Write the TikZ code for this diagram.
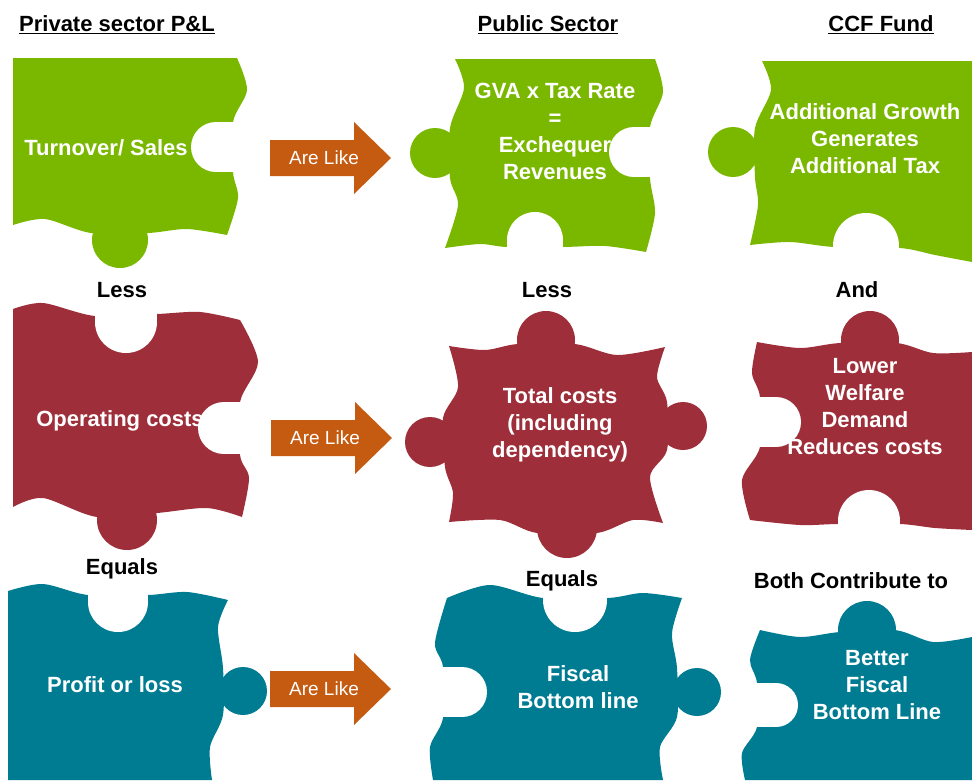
\documentclass[tikz,border=0pt]{standalone}
\usepackage{fontspec}
\setmainfont{Liberation Sans}

\definecolor{pzgreen}{RGB}{122,184,0}
\definecolor{pzred}{RGB}{158,47,58}
\definecolor{pzteal}{RGB}{0,124,146}
\definecolor{likeorange}{RGB}{197,90,17}

\tikzset{
  piecetext/.style={text=white,font=\fontsize{22}{27}\selectfont\bfseries,align=center},
  linktext/.style={font=\fontsize{22}{27}\selectfont\bfseries},
  liketext/.style={text=white,font=\fontsize{19}{22}\selectfont},
  holecut/.style={fill=white}
}

\begin{document}
\begin{tikzpicture}[x=1pt,y=-1pt]
  \useasboundingbox (0,0) rectangle (972,780);

  % Column headers
  \node[linktext] (hdrpriv) at (117,25) {\underline{Private sector P\&L}};
  \node[linktext] (hdrpub) at (548,25) {\underline{Public Sector}};
  \node[linktext] (hdrccf) at (881,25) {\underline{CCF Fund}};

  % Row 1: green pieces
  \fill[pzgreen] (13,58) -- (237,58)
    -- plot[smooth] coordinates {(237,58) (247,90) (233,122) (233,172) (238,198) (227,235)}
    -- plot[smooth] coordinates {(227,235) (187,229) (148,233) (91,233) (45,219) (13,225)}
    -- cycle;
  \fill[pzgreen] (120,240) circle[radius=28];

  \fill[pzgreen] (455,59) -- (655,59)
    -- plot[smooth] coordinates {(655,59) (663,92) (650,127) (650,178) (655,213) (646,252)}
    -- plot[smooth] coordinates {(646,252) (605,246) (563,247) (507,247) (480,244) (445,248)}
    -- plot[smooth] coordinates {(445,248) (458,205) (450,178) (450,128) (464,88) (455,59)}
    -- cycle;
  \fill[pzgreen] (435,153) circle[radius=25];

  \fill[pzgreen] (762,61) -- (972,61) -- (972,262)
    -- plot[smooth] coordinates {(972,262) (935,255) (900,248) (834,247) (790,242) (750,245)}
    -- plot[smooth] coordinates {(750,245) (758,205) (755,177) (755,128) (771,90) (762,61)}
    -- cycle;
  \fill[pzgreen] (733,152) circle[radius=25];

  % Row 2: red pieces
  \fill[pzred]
    plot[smooth] coordinates {(13,309) (43,303) (95,316) (157,314) (200,312) (240,320)}
    -- plot[smooth] coordinates {(240,320) (258,362) (240,402) (240,455) (249,478) (242,517)}
    -- plot[smooth] coordinates {(242,517) (207,508) (157,513) (97,517) (43,498) (13,507)}
    -- cycle;
  \fill[pzred] (127,520) circle[radius=30];

  \fill[pzred]
    plot[smooth] coordinates {(449,346) (485,350) (518,344) (575,344) (617,355) (665,347)}
    -- plot[smooth] coordinates {(665,347) (657,377) (667,402) (667,450) (650,477) (663,523)}
    -- plot[smooth] coordinates {(663,523) (633,520) (597,533) (537,533) (500,520) (449,522)}
    -- plot[smooth] coordinates {(449,522) (453,493) (445,467) (443,418) (458,387) (449,346)}
    -- cycle;
  \fill[pzred] (546,340) circle[radius=29];
  \fill[pzred] (683,426) circle[radius=24];
  \fill[pzred] (567,528) circle[radius=30];
  \fill[pzred] (430,442) circle[radius=25];

  \fill[pzred]
    plot[smooth] coordinates {(757,342) (800,348) (840,343) (897,343) (933,353) (972,352)}
    -- (972,530)
    -- plot[smooth] coordinates {(972,530) (935,528) (900,524) (838,524) (800,525) (750,520)}
    -- plot[smooth] coordinates {(750,520) (742,480) (760,447) (760,397) (752,373) (757,342)}
    -- cycle;
  \fill[pzred] (870,340) circle[radius=29];

  % Row 3: teal pieces
  \fill[pzteal]
    plot[smooth] coordinates {(8,591) (43,584) (88,595) (148,595) (187,592) (228,600)}
    -- plot[smooth] coordinates {(228,600) (218,627) (223,668) (223,715) (210,747) (212,780)}
    -- (8,780) -- cycle;
  \fill[pzteal] (243,691) circle[radius=24];

  \fill[pzteal]
    plot[smooth] coordinates {(447,598) (490,585) (543,598) (608,598) (643,593) (682,598)}
    -- plot[smooth] coordinates {(682,598) (672,633) (677,668) (677,717) (660,747) (663,780)}
    -- (433,780)
    -- plot[smooth] coordinates {(433,780) (430,747) (443,718) (443,667) (435,643) (447,598)}
    -- cycle;
  \fill[pzteal] (697,692) circle[radius=24];

  \fill[pzteal]
    plot[smooth] coordinates {(760,630) (800,637) (840,632) (895,630) (933,642) (972,637)}
    -- (972,780) -- (745,780)
    -- plot[smooth] coordinates {(745,780) (742,753) (757,727) (757,683) (750,660) (760,630)}
    -- cycle;
  \fill[pzteal] (867,630) circle[radius=29];

  % Blanks cut into the pieces
  \fill[holecut] (216,147) circle[radius=25];
  \fill[holecut] (216,122) rectangle (250,172);
  \fill[holecut] (634,152) circle[radius=25];
  \fill[holecut] (634,127) rectangle (670,177);
  \fill[holecut] (535,240) circle[radius=28];
  \fill[holecut] (507,240) rectangle (563,262);
  \fill[holecut] (866,246) circle[radius=33];
  \fill[holecut] (833,246) rectangle (899,266);
  \fill[holecut] (126,322) circle[radius=31];
  \fill[holecut] (95,300) rectangle (157,322);
  \fill[holecut] (224,428) circle[radius=26];
  \fill[holecut] (224,402) rectangle (264,454);
  \fill[holecut] (776,422) circle[radius=25];
  \fill[holecut] (740,397) rectangle (776,447);
  \fill[holecut] (869,521) circle[radius=31];
  \fill[holecut] (838,521) rectangle (900,542);
  \fill[holecut] (118,602) circle[radius=30];
  \fill[holecut] (88,580) rectangle (148,602);
  \fill[holecut] (575,600) circle[radius=32];
  \fill[holecut] (543,586) rectangle (607,600);
  \fill[holecut] (462,692) circle[radius=25];
  \fill[holecut] (428,667) rectangle (462,717);
  \fill[holecut] (776,705) circle[radius=22];
  \fill[holecut] (742,683) rectangle (776,727);

  % "Are Like" arrows
  \foreach \y/\x [count=\i] in {158/270, 438/271, 689/270} {
    \fill[likeorange] (\x,\y-18) -- (\x+84,\y-18) -- (\x+84,\y-36) -- (\x+121,\y)
      -- (\x+84,\y+36) -- (\x+84,\y+18) -- (\x,\y+18) -- cycle;
    \node[liketext] (like\i) at (\x+54,\y) {Are Like};
  }

  % Piece texts
  \node[piecetext] (turnover) at (106,148) {Turnover/ Sales};
  \node[piecetext] (gva) at (555,131) {GVA x Tax Rate\\=\\Exchequer\\Revenues};
  \node[piecetext] (growth) at (865,139) {Additional Growth\\Generates\\Additional Tax};
  \node[piecetext] (opcost) at (120,421) {Operating costs};
  \node[piecetext] (totcost) at (560,425) {Total costs\\(including\\dependency)};
  \node[piecetext] (welfare) at (865,407) {Lower\\Welfare\\Demand\\Reduces costs};
  \node[piecetext] (profit) at (115,685) {Profit or loss};
  \node[piecetext] (fiscal) at (578,687) {Fiscal\\Bottom line};
  \node[piecetext] (better) at (877,685) {Better\\Fiscal\\Bottom Line};

  % Link words between rows
  \node[linktext] (less1) at (122,290) {Less};
  \node[linktext] (less2) at (547,290) {Less};
  \node[linktext] (and) at (857,290) {And};
  \node[linktext] (equals1) at (122,569) {Equals};
  \node[linktext] (equals2) at (562,581) {Equals};
  \node[linktext] (both) at (851,581) {Both Contribute to};
\end{tikzpicture}
\end{document}
